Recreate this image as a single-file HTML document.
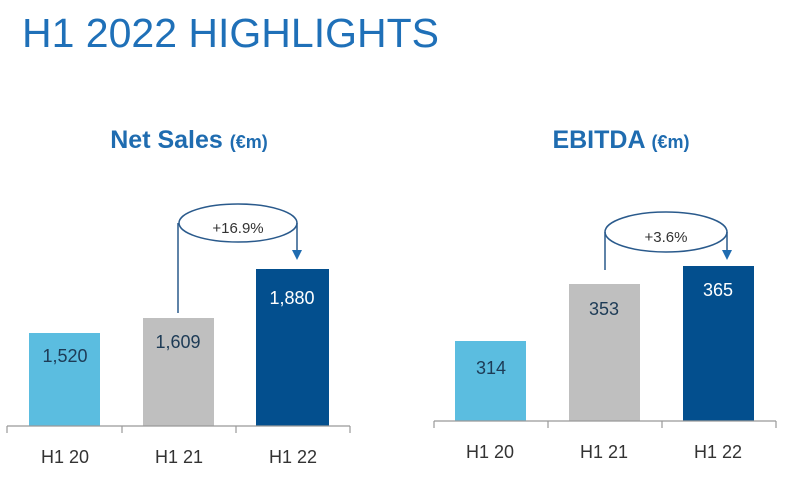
<!DOCTYPE html><html><head><style>body{margin:0;background:#fff;width:803px;height:473px;overflow:hidden}</style></head><body>
<svg width="803" height="473" xmlns="http://www.w3.org/2000/svg" font-family="Liberation Sans, DejaVu Sans, sans-serif">
<text x="22" y="47" font-size="41" fill="#1f70b8">H1 2022 HIGHLIGHTS</text>
<text x="189" y="148" text-anchor="middle" fill="#1f6cb0" font-weight="bold" font-size="25">Net Sales <tspan font-size="18">(€m)</tspan></text>
<text x="621" y="148" text-anchor="middle" fill="#1f6cb0" font-weight="bold" font-size="25">EBITDA <tspan font-size="18">(€m)</tspan></text>
<g font-size="18" text-anchor="middle">
<rect x="29" y="333" width="71" height="93" fill="#5bbde0"/>
<rect x="143" y="318" width="71" height="108" fill="#bfbfbf"/>
<rect x="256" y="269" width="73" height="157" fill="#034f8e"/>
<text x="65" y="362" fill="#1d3b56">1,520</text>
<text x="178" y="348" fill="#1d3b56">1,609</text>
<text x="292" y="304" fill="#fff">1,880</text>
<path d="M7 426H350M7 426v7M122 426v7M236 426v7M350 426v7" stroke="#999" stroke-width="1.2" fill="none"/>
<text x="65" y="463" fill="#333">H1 20</text><text x="179" y="463" fill="#333">H1 21</text><text x="293" y="463" fill="#333">H1 22</text>
<ellipse cx="238" cy="223" rx="59" ry="19" fill="none" stroke="#2a5a8c" stroke-width="1.5"/>
<path d="M178 313V223M297 223V252" stroke="#2a5a8c" stroke-width="1.5"/>
<path d="M292 250h10l-5 10z" fill="#1f6cb0"/>
<text x="238" y="233" font-size="15" fill="#333">+16.9%</text>

<rect x="455" y="341" width="71" height="80" fill="#5bbde0"/>
<rect x="569" y="284" width="71" height="137" fill="#bfbfbf"/>
<rect x="683" y="266" width="71" height="155" fill="#034f8e"/>
<text x="491" y="374" fill="#1d3b56">314</text>
<text x="604" y="315" fill="#1d3b56">353</text>
<text x="718" y="296" fill="#fff">365</text>
<path d="M434 421H776M434 421v7M548 421v7M662 421v7M776 421v7" stroke="#999" stroke-width="1.2" fill="none"/>
<text x="490" y="458" fill="#333">H1 20</text><text x="604" y="458" fill="#333">H1 21</text><text x="718" y="458" fill="#333">H1 22</text>
<ellipse cx="666" cy="232" rx="61" ry="20" fill="none" stroke="#2a5a8c" stroke-width="1.5"/>
<path d="M605 270V232M727 232V252" stroke="#2a5a8c" stroke-width="1.5"/>
<path d="M722 250h10l-5 10z" fill="#1f6cb0"/>
<text x="666" y="242" font-size="15" fill="#333">+3.6%</text>
</g>
</svg></body></html>
